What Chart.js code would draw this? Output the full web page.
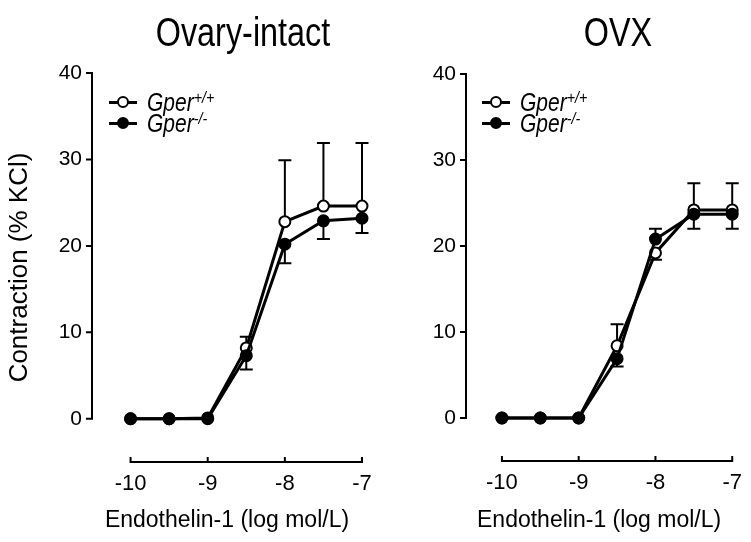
<!DOCTYPE html>
<html><head><meta charset="utf-8">
<script src="https://cdn.jsdelivr.net/npm/chart.js@4.4.0/dist/chart.umd.min.js"></script>
<style>
html,body{margin:0;padding:0;background:#fff;}
#wrap{position:relative;width:751px;height:542px;overflow:hidden;background:#fff;}
canvas{position:absolute;top:0;}
.ptitle{position:absolute;top:12px;font-family:"Liberation Sans",Arial,sans-serif;font-size:40px;line-height:40px;color:#000;white-space:nowrap;transform:translateX(-50%) scaleX(0.81);}
.leg{position:absolute;font-family:"Liberation Sans",Arial,sans-serif;font-style:italic;font-size:25px;line-height:24px;height:24px;white-space:nowrap;color:#000;}
.leg .mk{display:inline-block;position:relative;width:28px;height:24px;vertical-align:top;margin-right:10px;}
.leg .mk::before{content:"";position:absolute;left:0;right:0;top:10.5px;height:3px;background:#000;}
.leg .mk i{position:absolute;left:8px;top:6px;width:8px;height:8px;border:2px solid #000;border-radius:50%;background:#fff;}
.leg .mk i.f{background:#000;}
.leg .tx{display:inline-block;transform:scaleX(0.84);transform-origin:0 50%;}
.leg sup{font-size:17px;line-height:0;vertical-align:8px;}
</style></head>
<body>
<div id="wrap">
  <canvas id="c1" width="390" height="542" style="left:0"></canvas>
  <canvas id="c2" width="361" height="542" style="left:390px"></canvas>
  <div class="ptitle" style="left:243px">Ovary-intact</div>
  <div class="ptitle" style="left:618px">OVX</div>
  <div class="leg" style="left:109px;top:90px"><span class="mk"><i></i></span><span class="tx">Gper<sup>+/+</sup></span></div>
  <div class="leg" style="left:109px;top:111px"><span class="mk"><i class="f"></i></span><span class="tx">Gper<sup>-/-</sup></span></div>
  <div class="leg" style="left:482px;top:90px"><span class="mk"><i></i></span><span class="tx">Gper<sup>+/+</sup></span></div>
  <div class="leg" style="left:482px;top:111px"><span class="mk"><i class="f"></i></span><span class="tx">Gper<sup>-/-</sup></span></div>
</div>
<script>
const xValues = [-10, -9.5, -9, -8.5, -8, -7.5, -7];
const xTicks = [-10, -9, -8, -7];
const yTicks = [0, 10, 20, 30, 40];
const intactWT    = [0, 0, 0.1, 8.2, 22.8, 24.6, 24.6];
const intactWTErr = [null, null, null, 9.5, 29.9, 31.9, 31.9];
const intactKO    = [0, 0, 0, 7.3, 20.2, 22.9, 23.2];
const intactKOErr = [null, null, null, 5.7, 18.0, 20.8, 21.5];
const ovxWT       = [0, 0, 0, 8.4, 19.2, 24.2, 24.2];
const ovxWTErr    = [null, null, null, 10.9, 18.4, 27.3, 27.3];
const ovxKO       = [0, 0, 0, 6.9, 20.8, 23.7, 23.7];
const ovxKOErr    = [null, null, null, 6.0, 22.0, 22.0, 22.0];

const FONT = '"Liberation Sans", Arial, sans-serif';

const axesPlugin = {
  id: 'axesLines',
  afterDraw(chart) {
    const {ctx, scales: {x, y}} = chart;
    ctx.save();
    ctx.strokeStyle = '#000';
    ctx.lineWidth = 2;
    const ax = chart.chartArea.left;
    const yTop = y.getPixelForValue(yTicks[yTicks.length - 1]);
    const yBot = y.getPixelForValue(yTicks[0]);
    ctx.beginPath();
    ctx.moveTo(ax, yTop - 1); ctx.lineTo(ax, yBot + 1);
    yTicks.forEach(v => { const p = y.getPixelForValue(v); ctx.moveTo(ax - 6, p); ctx.lineTo(ax, p); });
    const by = chart.chartArea.bottom;
    const x0 = x.getPixelForValue(xTicks[0]), x1 = x.getPixelForValue(xTicks[xTicks.length - 1]);
    ctx.moveTo(x0 - 1, by); ctx.lineTo(x1 + 1, by);
    xTicks.forEach(v => { const p = x.getPixelForValue(v); ctx.moveTo(p, by + 1); ctx.lineTo(p, by - 5); });
    ctx.stroke();
    ctx.restore();
  }
};

const errPlugin = {
  id: 'errBars',
  beforeDatasetsDraw(chart) {
    const {ctx, scales: {x, y}} = chart;
    ctx.save();
    ctx.strokeStyle = '#000';
    ctx.lineWidth = 2;
    chart.data.datasets.forEach(ds => {
      (ds.errEnds || []).forEach((e, i) => {
        if (e == null) return;
        const px = x.getPixelForValue(ds.data[i].x);
        const p0 = y.getPixelForValue(ds.data[i].y);
        const p1 = y.getPixelForValue(e);
        ctx.beginPath();
        ctx.moveTo(px, p0); ctx.lineTo(px, p1);
        ctx.moveTo(px - 6.5, p1); ctx.lineTo(px + 6.5, p1);
        ctx.stroke();
      });
    });
    ctx.restore();
  }
};

function ds(label, vals, errs, filled, order) {
  return {
    label, order,
    data: xValues.map((x, i) => ({x, y: vals[i]})),
    errEnds: errs,
    borderColor: '#000', borderWidth: 3, tension: 0,
    pointRadius: 5.5, pointBorderWidth: 2,
    pointBorderColor: '#000',
    pointBackgroundColor: filled ? '#000' : '#fff',
    backgroundColor: filled ? '#000' : '#fff',
    fill: false, clip: false
  };
}

function makeChart(id, wt, wtErr, ko, koErr, o) {
  return new Chart(document.getElementById(id), {
    type: 'line',
    data: { datasets: [ ds('Gper+/+', wt, wtErr, false, 2), ds('Gper-/-', ko, koErr, true, 1) ] },
    options: {
      responsive: false, animation: false,
      layout: { padding: { top: o.top, left: 0, right: o.right, bottom: 0 } },
      plugins: { legend: { display: false }, tooltip: { enabled: false } },
      scales: {
        x: {
          type: 'linear', min: o.xMin, max: -7,
          grid: { display: false, drawTicks: false }, border: { display: false },
          afterBuildTicks: s => { s.ticks = xTicks.map(v => ({value: v})); },
          afterFit: s => { s.height = o.xH; },
          ticks: { color: '#000', font: { family: FONT, size: 22 }, padding: 9, maxRotation: 0, autoSkip: false, callback: v => String(v) },
          title: { display: true, text: 'Endothelin-1 (log mol/L)', color: '#000', font: { family: FONT, size: 23 }, padding: { top: 0, bottom: 8 } }
        },
        y: {
          type: 'linear', min: -5, max: 40,
          grid: { display: false, drawTicks: false }, border: { display: false },
          afterBuildTicks: s => { s.ticks = yTicks.map(v => ({value: v})); },
          afterFit: s => { s.width = o.yW; },
          ticks: { color: '#000', font: { family: FONT, size: 21 }, padding: 10, callback: v => String(v) },
          title: { display: o.yTitle, text: 'Contraction (% KCl)', color: '#000', font: { family: FONT, size: 26 }, padding: { top: 4, bottom: 0 } }
        }
      }
    },
    plugins: [axesPlugin, errPlugin]
  });
}

makeChart('c1', intactWT, intactWTErr, intactKO, intactKOErr, { top: 73, right: 28, xMin: -10.5, xH: 80, yW: 92, yTitle: true });
makeChart('c2', ovxWT, ovxWTErr, ovxKO, ovxKOErr, { top: 74, right: 18, xMin: -10.468, xH: 81, yW: 76, yTitle: false });
</script>
</body></html>
